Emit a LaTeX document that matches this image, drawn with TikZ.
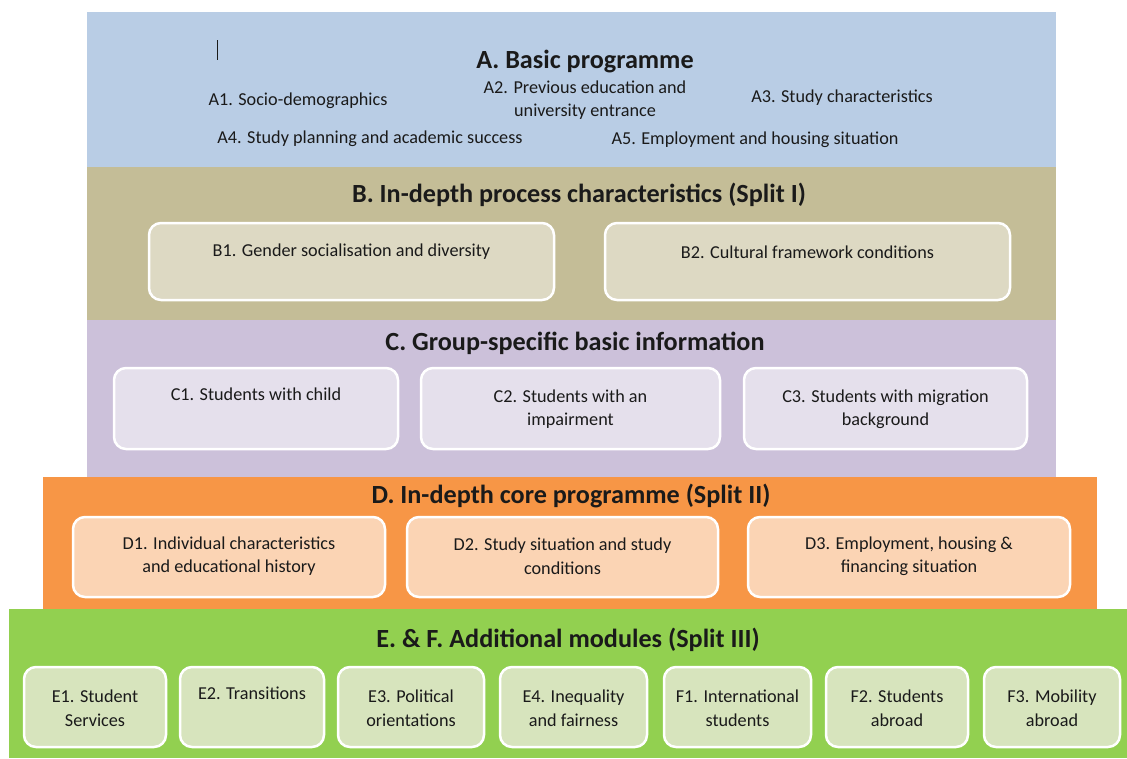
\documentclass[tikz,border=0pt]{standalone}
\usepackage{fontspec}
\setmainfont{Carlito}
\usetikzlibrary{positioning}

\definecolor{bandA}{HTML}{B9CDE5}
\definecolor{bandB}{HTML}{C4BD97}
\definecolor{bandC}{HTML}{CCC1DA}
\definecolor{bandD}{HTML}{F79646}
\definecolor{bandE}{HTML}{92D050}
\definecolor{boxB}{HTML}{DDD9C3}
\definecolor{boxC}{HTML}{E5E0EC}
\definecolor{boxD}{HTML}{FBD4B4}
\definecolor{boxE}{HTML}{D7E4BD}
\definecolor{txt}{HTML}{1A1A1A}

\tikzset{
  heading/.style={font=\fontsize{26.2}{30}\selectfont\bfseries, text=txt},
  item/.style={font=\fontsize{18.2}{23.5}\selectfont, text=txt, align=center},
  module/.style={draw=white, line width=2.5pt, rounded corners=12pt, inner sep=0pt},
}

\begin{document}
\begin{tikzpicture}[x=1pt, y=-1pt]
    \useasboundingbox (0,0) rectangle (1127,758);

    % Bands
    \fill[bandA] (87,12) rectangle (1056,167);
    \fill[bandB] (87,167) rectangle (1056,320);
    \fill[bandC] (87,320) rectangle (1056,477);
    \fill[bandD] (43,477) rectangle (1097,609);
    \fill[bandE] (9,609) rectangle (1127,758);

    % Headings
    \node[heading] (Ahead) at (585,62) {A. Basic programme};
    \node[heading] (Bhead) at (579,195) {B. In-depth process characteristics (Split I)};
    \node[heading] (Chead) at (575,343) {C. Group-specific basic information};
    \node[heading] (Dhead) at (571,496) {D. In-depth core programme (Split II)};
    \node[heading] (Ehead) at (568,640) {E. \& F. Additional modules (Split III)};

    % cursor mark
    \draw[txt, line width=0.8pt] (217,40) -- (217,60);

    % Basic programme items
    \node[item] (A1) at (298,101) {A1. Socio-demographics};
    \node[item] (A2) at (585,100) {A2. Previous education and\\university entrance};
    \node[item] (A3) at (842,98) {A3. Study characteristics};
    \node[item] (A4) at (370,139) {A4. Study planning and academic success};
    \node[item] (A5) at (755,140) {A5. Employment and housing situation};

    % Split I
    \foreach \n/\cx/\w/\t in {B1/351.5/405/{B1. Gender socialisation and diversity},
                              B2/807.5/405/{B2. Cultural framework conditions}}
    {
      \node[module, fill=boxB, minimum width=\w pt, minimum height=77pt] (\n) at (\cx,261.5) {};
      \node[item] (\n text) at (\cx,252) {\t};
    }

    % Group-specific
    \foreach \n/\cx/\w/\t in {C1/256/284/{C1. Students with child\\\strut},
                              C2/570.5/299/{C2. Students with an\\impairment},
                              C3/885.5/283/{C3. Students with migration\\background}}
    {
      \node[module, fill=boxC, minimum width=\w pt, minimum height=81pt] (\n) at (\cx,408.5) {};
      \node[item] (\n text) at (\cx,409) {\t};
    }

    % Split II
    \foreach \n/\cx/\w/\t in {D1/229/312/{D1. Individual characteristics\\and educational history},
                              D2/562.5/311/{D2. Study situation and study\\conditions},
                              D3/909/322/{D3. Employment, housing \&\\financing situation}}
    {
      \node[module, fill=boxD, minimum width=\w pt, minimum height=80pt] (\n) at (\cx,557) {};
      \node[item] (\n text) at (\cx,556) {\t};
    }

    % Split III
    \foreach \n/\cx/\w/\t in {E1/95/142/{E1. Student\\Services},
                              E2/252/144/{E2. Transitions\\\strut},
                              E3/411/146/{E3. Political\\orientations},
                              E4/573.5/147/{E4. Inequality\\and fairness},
                              F1/737.5/147/{F1. International\\students},
                              F2/897/142/{F2. Students\\abroad},
                              F3/1052/136/{F3. Mobility\\abroad}}
    {
      \node[module, fill=boxE, minimum width=\w pt, minimum height=80pt] (\n) at (\cx,707) {};
      \node[item] (\n text) at (\cx,708) {\t};
    }
\end{tikzpicture}
\end{document}
